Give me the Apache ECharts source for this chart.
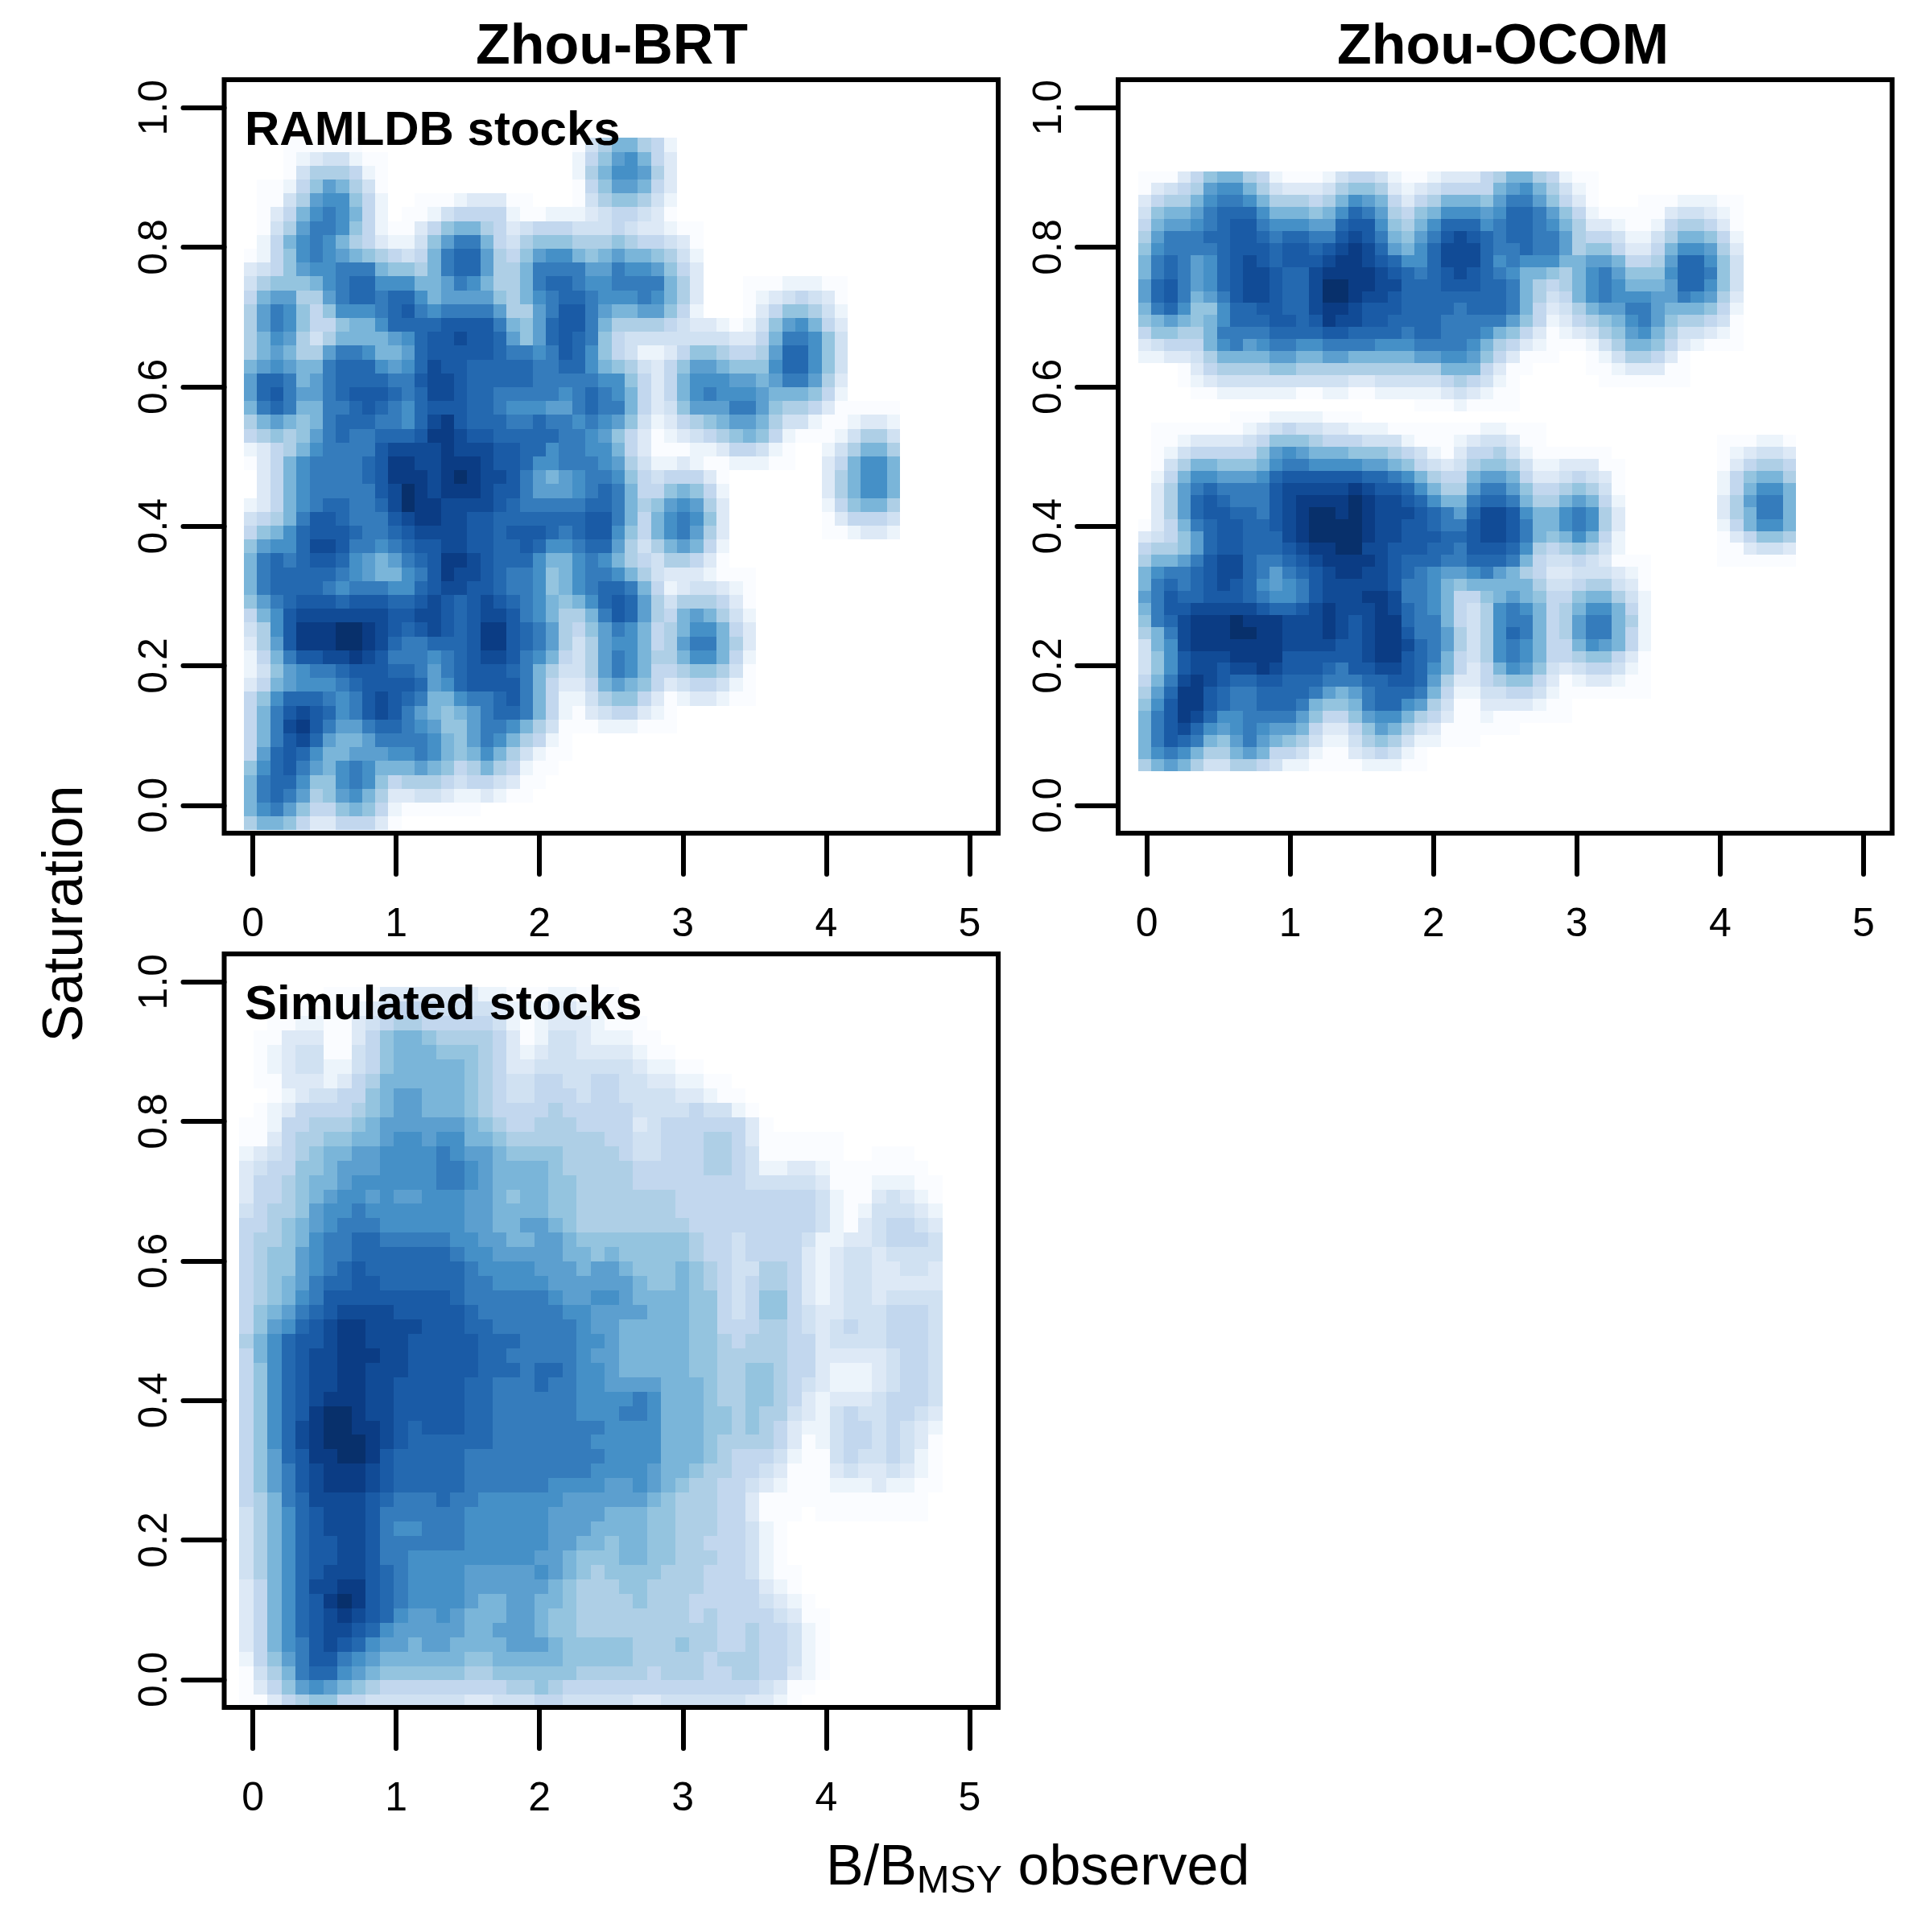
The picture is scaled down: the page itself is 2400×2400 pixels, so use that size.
<!DOCTYPE html>
<html><head><meta charset="utf-8">
<style>html,body{margin:0;padding:0;background:#fff}#c{width:2400px;height:2400px}</style>
<script src="https://cdn.jsdelivr.net/npm/echarts@6/dist/echarts.min.js"></script>
</head><body><div id="c"></div>
<script>
// Density level per cell (0-g), rows listed top to bottom.
const ramldbRows = [
"0001111110 0000000000 0000014688 6520000000 0000000000",
"0001234421 1000000000 000002579a 8530000000 0000000000",
"0001466652 1000000000 00000268aa 9630000000 0000000000",
"0112579864 1000000000 0000015799 8530000000 0000000000",
"011469aa75 2001112333 1100014677 6420000000 0000000000",
"01358aba85 2011245555 2112223455 4310000000 0000000000",
"01469bba75 2113578865 3455544454 3321100000 0000000000",
"0258aba865 322479bb85 4677766676 5543100000 0000000000",
"1257aba987 65458bcc96 579aa87898 8764200000 0000000000",
"34579aabbb 87768bcc96 68bbbb99ba a975300000 0000000000",
"467778abcc aaa889ba86 68bccbaabb bb86300011 1222110000",
"5899669bcc bcca899997 68abccbaaa ba86300012 3454310000",
"69ba757aaa bcdbabbbb9 669bddb988 9975200013 5776420000",
"69ba755788 accccddddb 879cddb866 6654332124 79a8530000",
"68a9646888 89acddeddc 979cdcb754 4444444335 8bba740000",
"6898669bba 889cdddddc bbabdca754 2235776556 9cca740000",
"89a988bccc a9aceddccc ccbbcca876 4357998777 acca740000",
"9ccb89bccc cbbdeedccc ccbbbbbaa7 5358aaa998 9bb9630000",
"9cdb99bcdd dcbceedccb bbbbabcba8 5358abaaa9 8887520000",
"8bcb88bbcd cbacdddccb aaa99bcbb8 5347999bb9 7665311111",
"689878bccc bbacefdccc bbcbbaba97 4235678998 6442112332",
"567679bcbb cccdffeddc ccccbba975 3123456787 5211124664",
"23568abbbb deeeefeeed dccabbaa85 3111223554 2100246886",
"1358abbbbc dffeefffed dcaabbba96 4223211222 1100358aa8",
"0358abbbbc dfffefgfee db989abba7 5455531000 0000368aa8",
"0358abbbbb degfefffed db999abcb8 5578752000 0000368aa8",
"2358abccbb cegffeeeed cbbbbbccb8 679a963000 0000257886",
"4568bddcbb bdeffeeddc ccccccddb8 58aba73000 0000135554",
"578acdddcb bcdeeeeddc dddcbcdda7 58ab963000 0000112332",
"79aaceedbb abcddeeddc cdcaabcc96 4689852000 0000000000",
"8bcbcddca9 89bcdffedc cca88aba86 5466531000 0000000000",
"8bcccccba9 88abdfeedc bba78abba8 6433321110 0000000000",
"8bccccbabb baacdeeddc bba78abccb 8523443210 0000000000",
"79bcdddcdd dccdedcded cba878acdc 9646665310 0000000000",
"58adeeeeee eddeedcdee dba8668bdc 9658986420 0000000000",
"46adfffggf edcdedcdff dcb96579ba 8568aa8530 0000000000",
"369dfffggf ecbbcccdff dcb96469aa 8569bb8630 0000000000",
"258bddeefe dbbbabcdee dba85469ba 8668aa8520 0000000000",
"2479abbcdd dccb9bcddd cb864469ba 8556776410 0000000000",
"3589aaabcd dddc9acddd db85335898 7534554210 0000000000",
"57acccbabd edcb88abbc db85224677 5312332110 0000000000",
"58bdedcabd edb98789bc cb85213455 3210000000 0000000000",
"58befdb99b ccba9779bb a864111222 1110000000 0000000000",
"58bdec9889 bbbba879ba 8652100000 0000000000 0000000000",
"59cdca8899 9aaba878a8 6421100000 0000000000 0000000000",
"7acdb98aba 8889875686 5211000000 0000000000 0000000000",
"8bcca77aba 7566654554 3110000000 0000000000 0000000000",
"8bcb9679a8 6334432232 1100000000 0000000000 0000000000",
"8ab9755787 5211111100 0000000000 0000000000 0000000000",
"6887533555 3100000000 0000000000 0000000000 0000000000"
];
const ocomRows = [
"1113578865 2111245542 1123335688 6521100000 0000000000",
"134569aa86 4333467763 234555589a 8642100000 0000000000",
"35668abba8 666568a985 35688879bb 9753100011 1222110000",
"47889bccca 88878acb96 578aaa9acc b975211111 3443210000",
"5899abcddb aaa99cdda7 68acccabcc ba86332112 5665310000",
"69bbbccddc bccbbdedb8 79bdedcbcc bb96554224 6887520000",
"7abbbbcddd cddcdefec9 8aceeecbbc bb96775335 8aa9630000",
"8bcb9acded cdddeffedc aaceeecaba aa88998556 9cca740000",
"8bcb9acdee dcceffffed cbcdedcba8 8768ab9777 accb740000",
"9cdb9acdee dcceggffee cccdddccb8 6568aba888 9cca740000",
"9cdb89bdee dcceggfeed ccccccccb8 6458abaaa9 9ba9630000",
"8bca77accd dcceffeddd ccccbcccb8 5346899bb9 8887520000",
"789878accc ddcdfeeddc cccbbbbb97 5235678ab9 7665410000",
"577668bbbb ccccddcccc bccbbba875 31234679a8 6443210000",
"345558ab9a bbaabbbbaa abbbba8653 2111246887 5321110000",
"2233468888 9988998888 899aa97531 1100124665 3100000000",
"0001356666 7766666666 6668885311 0000112333 1100000000",
"0001234444 4444443344 4445654210 0000011111 1100000000",
"0000112222 2211221122 2223432110 0000000000 0000000000",
"0000000000 0000000000 0111211110 0000000000 0000000000",
"0000000111 2222111000 0000000000 0000000000 0000000000",
"0111111123 4544332221 1111112211 1000000000 0000000000",
"0112333345 7776555444 2111234431 1000000000 0000111221",
"0124555557 9a98887776 5421355642 1111110000 0000123443",
"0146887778 abbaaaa998 7543467764 2233311000 0000135665",
"0258aa999a cddddddccb a865589985 3345431000 0000257886",
"0369bcbbbb deeeeefedd ca8669bb97 5567641000 0000258aa8",
"0369cdcbbb deffffgfee dca88bccb8 6689852000 0000369bb8",
"0369cddccb defggfgfee edcb9ceeda 88aba63000 0000368bb8",
"1358bcddcc defggggfee ddcbbdeedb 88aba63000 0000258aa8",
"34579cddcc cefggggfee dddccdeedb 878a852000 0000135776",
"56679cddcc cdeffggeed ddccbdddca 6567642000 0000113443",
"6889bdeecb bcdeffffed cccbbcccb8 5445431110 0000111111",
"8abbcdeecb 9bcdeffeed cba99ab986 5334443210 0000000000",
"8bcbcdedca 9abdeeeeed bba8788888 6445664310 0000000000",
"9bdccdddcb aabdeeeffe bba8557898 7557886420 0000000000",
"8bddeeeeed ccdefeeefe cba8546aba 8568aa8520 0000000000",
"7bcefffgff feeefedeff cbb8546abb 8569bb8620 0000000000",
"68befffggf feeefedeff dbb9646acb 8569bb8520 0000000000",
"48aeffffff feeeeddeff ecb9646aba 8558a98520 0000000000",
"47adeeefff fddddddeff dcb8546aba 8556775310 0000000000",
"47adeedeef edddcbddee dca85358a9 7434554210 0000000000",
"58befedccd dcccbbbccd dc96335677 5312332110 0000000000",
"69cffdcbbc cccb989bcc cb85224455 4211111110 0000000000",
"7adffdcbbc ccb8778bcc a964113333 2110000000 0000000000",
"8bdfecaabb bb975579aa 8653112111 1110000000 0000000000",
"8bdeca9aba 9985335798 6431111110 0000000000 0000000000",
"8bdcb879b9 8764224676 4221110000 0000000000 0000000000",
"8aba866898 5542113454 2100000000 0000000000 0000000000",
"6898644665 4221111222 1100000000 0000000000 0000000000"
];
const simulatedRows = [
"0000001111 3333333221 1122111000 0000000000 0000000000",
"0001111123 4555444432 2233221100 0000000000 0000000000",
"0011221134 5665555542 1233321110 0000000000 0000000000",
"0113331135 7887666653 1244322211 0000000000 0000000000",
"0123441145 7888777653 2344333321 1000000000 0000000000",
"0123442245 7888887653 3444444432 2110000000 0000000000",
"0113332356 8888887654 4554455443 3221100000 0000000000",
"0012344557 8998887654 4555455444 4332110000 0000000000",
"0123555567 8998887655 5565555544 4454421000 0000000000",
"1125566678 9999998765 5666555534 5555553100 0000000000",
"1135667788 9aa9aa8876 6666665544 5556653111 1110000000",
"2345678899 aaaaba9987 7776666544 5556654111 1110011100",
"3455778999 aaaabba988 8876666655 5556654223 3211111110",
"35567889aa aaaabba988 8877666655 5555554444 4311122211",
"3556789aa9 a99aaa9987 8877666666 6555555555 5421134321",
"456679aaba aaaaaa9988 8877666666 6555555555 5421244432",
"556789abbb aaaaaa9988 9987666666 6655555555 5421345543",
"56678abbcc bbbbbaa998 8998777777 7765545555 4223345554",
"56779abbcc cccccbaa99 9998878777 7765545555 3234434444",
"56779abcdc ccccccbaaa a999899877 7876544665 3234433443",
"56789bccdd ccccccbbaa aa99999987 7876545665 3234433333",
"5678abdddd dddddcbbbb bba99aa988 8877545775 3234434444",
"5789bcdeee edddddcbbb bbbaa99998 8877545775 4334445554",
"579acdeffe eeedddccbb bbbba99888 8877555665 4345445554",
"68acddeffe eedddddccc bbbbaa9888 8877656665 5344445554",
"58acdeefff eedddddccb bbbba99888 8877666665 5333334554",
"57acdeeffe eedddddccc bccbaa9888 8877667765 5322234554",
"57acdeeffe edddddccbb bcbbaa9999 8887667765 4322234554",
"57acdefffe edddddccbb bbbbaaaaba 8887667765 3233345554",
"57acdfggfe edddddccbb bbbbaaabba 8887767664 3245445543",
"57acefggff edcdddccbb bbbbbbaaaa 8887767653 2245545432",
"57acefgggf edccccccbb bbbbbaaaaa 8887666653 1245545431",
"579cdffggf dcccccbbbb bbbbbbaaaa 8887655542 1145445421",
"579bdefffe dcccccbbbb bbbbbaaaa9 8876655431 1134334321",
"579bdefffe dcccccbbbb bbaaaa99a9 8766554321 1122232211",
"568bceeeed cbbbcbbaaa aaa9999998 7666553111 1111111110",
"468acdeeed bbbbbbaaaa aa99998887 7666553111 0111111110",
"468acdeeed baabbbaaaa aa99988887 7666554210 0000000000",
"468acddeed bbbbbbaaaa aa99887887 7665554210 0000000000",
"468acddeed bbaaaaaaaa a998777887 7666554210 0000000000",
"468acdeeed cbaaaa9999 9a98767777 6665554211 0000000000",
"358aceeffd cbaaaa9999 9987666776 6665555321 0000000000",
"358acdfgfd cbaaaa9889 9887666676 6655555432 1000000000",
"358acdefed ca99a98889 9877666666 6656555543 1100000000",
"358acdeedc a999998899 9877666666 6666556554 2100000000",
"358abdedca 9989988889 9987777766 6766556554 2100000000",
"2579bddba9 8888887788 8887777766 6665666554 2100000000",
"1468bcca98 7777776677 7777666665 6665566553 2100000000",
"13579a9876 5555555556 6765555555 5555555431 1000000000",
"1135677554 4444443344 4554444433 4444443321 0000000000"
];
const xTickValues = [0, 1, 2, 3, 4, 5];
const yTickValues = [0, 0.2, 0.4, 0.6, 0.8, 1.0];
const panelTitles = ["Zhou-BRT", "Zhou-OCOM"];
const blues = ["#ffffff","#fafcff","#ecf4fb","#dde9f6","#d0e1f2","#c2d7ee","#aecfe6","#94c4df","#7ab5d9",
  "#5c9fcf","#4590c7","#357cbc","#2469b0","#1a5ba6","#114b96","#0b3c84","#08306b"];
const FONT = '"Liberation Sans", Arial, sans-serif';

const panels = [
  {rows: ramldbRows, xLo: -0.0618, xHi: 4.517, yHi: 0.9565, yLo: -0.0359, left: 278.5, top: 99},
  {rows: ocomRows, xLo: -0.0618, xHi: 4.53, yHi: 0.909, yLo: 0.0493, left: 1389, top: 99},
  {rows: simulatedRows, xLo: -0.0955, xHi: 4.81, yHi: 0.9923, yLo: -0.0427, left: 278.5, top: 1185}
];

function cells(p) {
  const out = [];
  const dx = (p.xHi - p.xLo) / 50, dy = (p.yHi - p.yLo) / 50;
  p.rows.forEach((row, r) => {
    const s = row.replace(/ /g, '');
    for (let c = 0; c < s.length; c++) {
      const v = parseInt(s[c], 36);
      if (v > 0) out.push([p.xLo + c * dx, p.yHi - (r + 1) * dy, v]);
    }
  });
  return {data: out, dx, dy};
}

const grid = [], xAxis = [], yAxis = [], series = [];
panels.forEach((p, i) => {
  grid.push({show: true, z: 5, left: p.left, top: p.top, width: 961.5, height: 936,
    borderWidth: 6, borderColor: '#000', backgroundColor: 'transparent', containLabel: false});
  xAxis.push({type: 'value', gridIndex: i, min: -0.2, max: 5.2, position: 'bottom', z: 6,
    axisLine: {show: false, onZero: false}, splitLine: {show: false},
    axisTick: {show: true, inside: false, length: 51, customValues: xTickValues, lineStyle: {width: 6, color: '#000', cap: 'round'}},
    axisLabel: {show: true, customValues: xTickValues, margin: 89, fontSize: 50, fontFamily: FONT, color: '#000',
      formatter: v => String(v)}});
  yAxis.push({type: 'value', gridIndex: i, min: -0.04, max: 1.04, position: 'left', z: 6,
    axisLine: {show: false, onZero: false}, splitLine: {show: false},
    axisTick: {show: true, inside: false, length: 51, customValues: yTickValues, lineStyle: {width: 6, color: '#000', cap: 'round'}},
    axisLabel: {show: true, customValues: yTickValues, rotate: 90, margin: 60, fontSize: 50, fontFamily: FONT, color: '#000',
      formatter: v => v.toFixed(1)}});
  const {data, dx, dy} = cells(p);
  series.push({type: 'custom', xAxisIndex: i, yAxisIndex: i, coordinateSystem: 'cartesian2d', clip: true, silent: true,
    animation: false, dimensions: ['x', 'y', 'level'], encode: {x: 0, y: 1}, data,
    renderItem: (params, api) => {
      const x = api.value(0), y = api.value(1);
      const a = api.coord([x, y + dy]), b = api.coord([x + dx, y]);
      const x0 = Math.round(a[0]), y0 = Math.round(a[1]), x1 = Math.round(b[0]), y1 = Math.round(b[1]);
      return {type: 'rect', shape: {x: x0, y: y0, width: x1 - x0, height: y1 - y0},
        style: {fill: api.visual('color')}};
    }});
});

const text = (x, y, t, size, weight, align, extra) => Object.assign({
  type: 'text', x, y, z: 20, silent: true,
  style: Object.assign({text: t, fontSize: size, fontWeight: weight, fontFamily: FONT, fill: '#000',
    align: align, verticalAlign: 'middle'}, extra && extra.style)
}, extra && extra.el);

const chart = echarts.init(document.getElementById('c'), null, {renderer: 'canvas', width: 2400, height: 2400});
chart.setOption({
  animation: false, backgroundColor: '#fff', grid, xAxis, yAxis, series,
  visualMap: {show: false, type: 'continuous', min: 0, max: 16, dimension: 2, seriesIndex: [0, 1, 2],
    inRange: {color: blues}},
  graphic: {elements: [
    text(760, 60, panelTitles[0], 70, 'bold', 'center'),
    text(1867, 60, panelTitles[1], 70, 'bold', 'center'),
    text(304, 163, 'RAMLDB stocks', 60, 'bold', 'left'),
    text(304, 1249, 'Simulated stocks', 60, 'bold', 'left'),
    text(83, 1135, 'Saturation', 70, 'normal', 'center', {el: {rotation: Math.PI / 2}}),
    text(1026, 2322, '{a|B/B}{b|MSY}{a| observed}', 70, 'normal', 'left', {style: {rich: {
      a: {fontSize: 70, fontFamily: FONT, fill: '#000', lineHeight: 80},
      b: {fontSize: 49, fontFamily: FONT, fill: '#000', verticalAlign: 'bottom', lineHeight: 80, padding: [24, 0, 0, 0]}
    }}})
  ]}
});
</script></body></html>
